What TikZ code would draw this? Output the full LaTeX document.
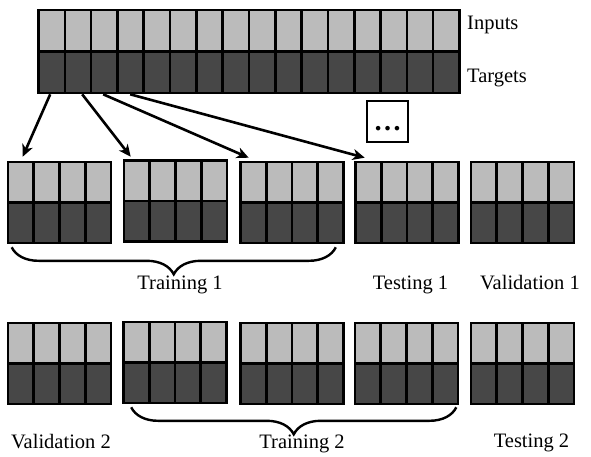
\documentclass[tikz,border=0pt]{standalone}
\usepackage{fontspec}
\setmainfont{Liberation Serif}
\usepackage{xcolor}
\usepackage{tikz}
\usetikzlibrary{shapes,arrows.meta,calc,decorations.pathreplacing}
\definecolor{inputgray}{HTML}{BBBBBB}
\definecolor{targetgray}{HTML}{474747}
\tikzset{fold/.style={draw, line width=2.6pt, fill=inputgray, inner sep=0pt,
    path picture={
      \fill[targetgray] (path picture bounding box.west) rectangle (path picture bounding box.south east);
      \draw[line width=2.6pt] (path picture bounding box.west) -- (path picture bounding box.east);
      \foreach \k in {1,...,#1}
        \draw[line width=2.6pt] ($(path picture bounding box.north west)!\k/#1!(path picture bounding box.north east)$)
          -- ($(path picture bounding box.south west)!\k/#1!(path picture bounding box.south east)$);
    }}}
\tikzstyle{piece} = [fold=4, minimum width=103pt, minimum height=81pt]
\tikzstyle{txt} = [font=\fontsize{20.5}{24}\selectfont, inner sep=0pt]
\tikzstyle{more} = [draw, line width=1.3pt, minimum size=41pt, inner sep=0pt, text height=17pt, text depth=0pt, font=\fontsize{28}{28}\selectfont\bfseries]
\tikzstyle{line} = [draw, -{Stealth[length=12pt, width=11pt, inset=3.5pt]}, line width=2.6pt]
\tikzstyle{group} = [draw, line width=2.4pt, decorate, decoration={brace, mirror, amplitude=27pt}]

\begin{document}
\begin{tikzpicture}[x=1pt, y=-1pt]
        \useasboundingbox (0,0) rectangle (591,456);
        % Place nodes
        \node [fold=16, minimum width=421pt, minimum height=83pt] (full) at (249,51.5) {};
        \node [txt, anchor=base west] (inputs) at (467,29) {Inputs};
        \node [txt, anchor=base west] (targets) at (467,82) {Targets};
        \node [more] (dots) at (387.5,121.5) {…};
        % First split
        \node [piece] (trA) at (59.5,202.5) {};
        \node [piece] (trB) at (175.5,201) {};
        \node [piece] (trC) at (292,202.5) {};
        \node [piece] (teA) at (407,202.5) {};
        \node [piece] (vaA) at (522.5,202.5) {};
        % Second split
        \node [piece] (vaB) at (59.5,363.5) {};
        \node [piece] (trD) at (175,362.5) {};
        \node [piece] (trE) at (292,363.5) {};
        \node [piece] (trF) at (406.5,363.5) {};
        \node [piece] (teB) at (522.5,363.5) {};
        % Labels
        \node [txt, anchor=base] (trainA) at (180,289) {Training 1};
        \node [txt, anchor=base] (testA) at (410.5,289) {Testing 1};
        \node [txt, anchor=base] (validA) at (530,289) {Validation 1};
        \node [txt, anchor=base] (validB) at (61,448) {Validation 2};
        \node [txt, anchor=base] (trainB) at (302,448) {Training 2};
        \node [txt, anchor=base] (testB) at (531.5,447) {Testing 2};
        % Draw edges
        \path [line] ($(full.south west)+(13,0)$) -- ($(trA.north west)+(16,-4)$);
        \path [line] ($(full.south west)+(45,0)$) -- ($(trB.north west)+(8,-2.5)$);
        \path [line] ($(full.south west)+(66,0)$) -- ($(trC.north west)+(9.5,-3)$);
        \path [line] ($(full.south west)+(93,0)$) -- ($(teA.north west)+(10.5,-3)$);
        % Braces
        \path [group] ($(trA.south west)+(5,3)$) -- ($(trC.south east)+(-9,3)$);
        \path [group] ($(trD.south west)+(9,3)$) -- ($(trF.south east)+(-3,2)$);
    \end{tikzpicture}
\end{document}
